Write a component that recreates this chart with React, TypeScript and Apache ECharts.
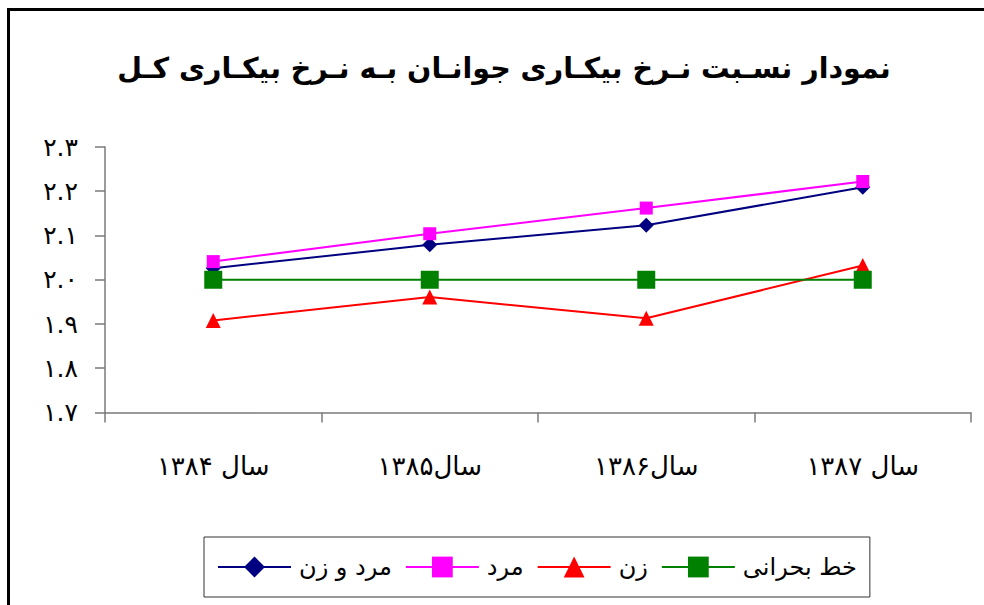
import React, { useEffect, useRef } from "react";
import * as echarts from "echarts";

const titleText = "نمودار نسـبت نـرخ بیکـاری جوانـان بـه نـرخ بیکـاری کـل";
const categories = ["سال ۱۳۸۴", "سال۱۳۸۵", "سال۱۳۸۶", "سال ۱۳۸۷"];
const seriesNames = ["مرد و زن", "مرد", "زن", "خط بحرانی"];
const totalValues = [2.026, 2.079, 2.123, 2.209];
const menValues = [2.041, 2.104, 2.162, 2.222];
const womenValues = [1.908, 1.961, 1.913, 2.032];
const criticalValues = [2.0, 2.0, 2.0, 2.0];
const yMin = 1.7;
const yMax = 2.3;
const yStep = 0.1;

const FONT = "DejaVu Sans";
const faDigits = "۰۱۲۳۴۵۶۷۸۹";
const toFa = (s: string) => s.replace(/[0-9]/g, (d) => faDigits[Number(d)]);

export default function App() {
  const ref = useRef<HTMLDivElement>(null);
  useEffect(() => {
    if (!ref.current) return;
    const chart = echarts.init(ref.current, null, { renderer: "svg" });
    const mk = (name: string, data: number[], color: string, symbol: string, size: number) => ({
      name,
      type: "line",
      data,
      symbol,
      symbolSize: size,
      showSymbol: true,
      lineStyle: { color, width: 2 },
      itemStyle: { color },
      emphasis: { disabled: true },
    });
    chart.setOption({
      animation: false,
      backgroundColor: "#ffffff",
      graphic: [
        {
          type: "rect",
          shape: { x: 8.5, y: 9.5, width: 1200, height: 1000 },
          style: { fill: "none", stroke: "#000", lineWidth: 3 },
          silent: true,
        },
        {
          type: "text",
          x: 504,
          y: 68,
          style: {
            text: titleText,
            font: `bold 28.5px "${FONT}"`,
            fill: "#000",
            textAlign: "center",
            textVerticalAlign: "middle",
          },
        },
      ],
      grid: { left: 105, top: 147, width: 866, height: 265.5, containLabel: false },
      xAxis: {
        type: "category",
        data: categories,
        boundaryGap: true,
        axisLine: { show: true, lineStyle: { color: "#7a7a7a", width: 1.5 } },
        axisTick: { show: true, length: 10, lineStyle: { color: "#7a7a7a", width: 1.5 } },
        axisLabel: { color: "#000", fontSize: 26, fontFamily: FONT, margin: 40 },
        splitLine: { show: false },
      },
      yAxis: {
        type: "value",
        min: yMin,
        max: yMax,
        interval: yStep,
        axisLine: { show: true, lineStyle: { color: "#7a7a7a", width: 1.5 } },
        axisTick: { show: true, length: 10, lineStyle: { color: "#7a7a7a", width: 1.5 } },
        axisLabel: {
          color: "#000",
          fontSize: 25,
          fontFamily: FONT,
          margin: 27,
          formatter: (v: number) => toFa(v.toFixed(1)),
        },
        splitLine: { show: false },
      },
      legend: {
        data: seriesNames,
        left: 204,
        top: 537,
        orient: "horizontal",
        borderColor: "#333",
        borderWidth: 1,
        padding: [18, 13, 18, 13],
        itemWidth: 73,
        itemHeight: 26,
        itemGap: 13,
        textStyle: { color: "#000", fontSize: 24, fontFamily: FONT, padding: [0, 0, 0, 3] },
      },
      series: [
        mk(seriesNames[0], totalValues, "#000080", "diamond", 15),
        mk(seriesNames[1], menValues, "#ff00ff", "rect", 13),
        mk(seriesNames[2], womenValues, "#ff0000", "triangle", 15),
        mk(seriesNames[3], criticalValues, "#008000", "rect", 18),
      ],
    });
    return () => chart.dispose();
  }, []);
  return (
    <div
      ref={ref}
      style={{ position: "absolute", left: 0, top: 0, width: 984, height: 605 }}
    />
  );
}
